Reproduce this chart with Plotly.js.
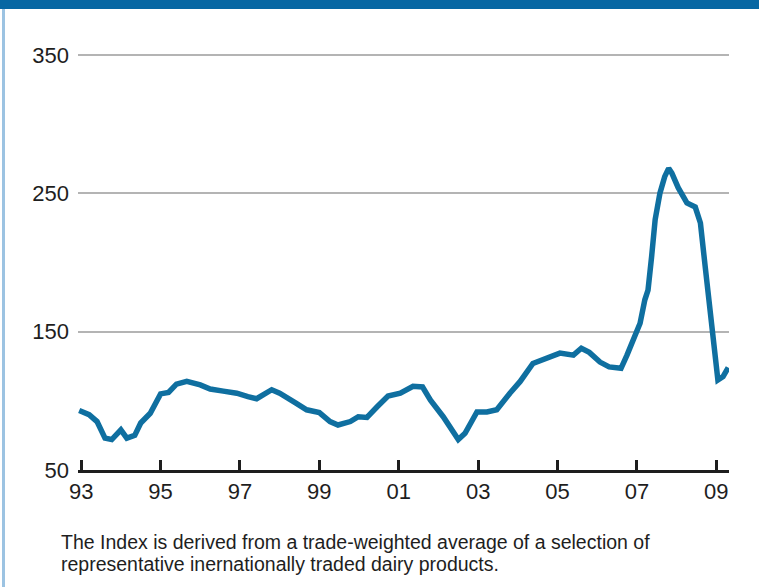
<!DOCTYPE html>
<html>
<head>
<meta charset="utf-8">
<script src="https://cdn.plot.ly/plotly-3.0.1.min.js"></script>
<style>
  html, body { margin: 0; padding: 0; background: #ffffff; }
  #wrap { position: relative; width: 759px; height: 587px; overflow: hidden; }
  #chart { position: absolute; left: 0; top: 0; width: 759px; height: 587px; }
  #band { position: absolute; left: 0; top: 0; width: 759px; height: 9px; background: #0767a3; z-index: 5; }
  #lborder { position: absolute; left: 2px; top: 9px; width: 3px; height: 578px; background: #9cc3e2; z-index: 5; }
</style>
</head>
<body>
<div id="wrap">
  <div id="chart"></div>
  <div id="band"></div>
  <div id="lborder"></div>
</div>
<script>
// Dairy price index
const years = [
  1992.95, 1993.2, 1993.4, 1993.6, 1993.77, 1994.0, 1994.15, 1994.35, 1994.5, 1994.74,
  1995.0, 1995.2, 1995.4, 1995.66, 1996.0, 1996.25, 1996.58, 1996.92, 1997.2, 1997.42,
  1997.8, 1998.0, 1998.4, 1998.68, 1999.0, 1999.27, 1999.47, 1999.78, 1999.98, 2000.2,
  2000.45, 2000.73, 2001.04, 2001.36, 2001.6, 2001.8, 2002.12, 2002.37, 2002.5, 2002.67,
  2002.97, 2003.22, 2003.47, 2003.8, 2004.06, 2004.38, 2004.64, 2005.06, 2005.4, 2005.6,
  2005.8, 2006.07, 2006.3, 2006.6, 2006.75, 2006.9, 2007.08, 2007.2, 2007.28, 2007.37,
  2007.46, 2007.58, 2007.7, 2007.8, 2007.88, 2008.04, 2008.26, 2008.47, 2008.6, 2008.72,
  2008.85, 2008.97, 2009.04, 2009.17, 2009.3
];
const indexValues = [
  93, 90, 85, 73, 72, 79, 73, 75, 84, 91,
  105, 106, 112, 114, 111.5, 108.5, 107, 105.5, 103, 101.5,
  108, 105.5, 98.5, 93.5, 91.5, 85, 82.5, 85, 88.5, 88,
  95.5, 103.5, 105.5, 110.5, 110, 100.5, 88.5, 76.5, 72, 76.5,
  92, 92, 93.5, 105.5, 114, 127, 129.5, 134.5, 133, 138,
  135, 128, 124.5, 123.5, 133, 144, 156, 173, 180, 204,
  231, 250, 262, 268, 264.5, 254, 243, 240, 228.5, 197,
  165.5, 132, 115, 117.5, 124
];
const xTickVals = [1993, 1995, 1997, 1999, 2001, 2003, 2005, 2007, 2009];
const xTickText = ['93', '95', '97', '99', '01', '03', '05', '07', '09'];
const yTickVals = [50, 150, 250, 350];
const noteLines = [
  'The Index is derived from a trade-weighted average of a selection of',
  'representative inernationally traded dairy products.'
];

const trace = {
  x: years,
  y: indexValues,
  type: 'scatter',
  mode: 'lines',
  line: { color: '#0f6fa0', width: 5.5, shape: 'linear' },
  hoverinfo: 'x+y'
};

const noteY = [-0.1678, -0.2191];

const layout = {
  width: 759,
  height: 587,
  margin: { l: 78, r: 30, t: 41, b: 117 },
  paper_bgcolor: '#ffffff',
  plot_bgcolor: '#ffffff',
  showlegend: false,
  font: { family: 'Liberation Sans, Arial, sans-serif', color: '#1e1e1e' },
  xaxis: {
    range: [1992.92, 2009.32],
    tickmode: 'array',
    tickvals: xTickVals,
    ticktext: xTickText,
    ticks: 'inside',
    ticklen: 10,
    tickwidth: 3,
    tickcolor: '#1e1e1e',
    showline: true,
    linecolor: '#1e1e1e',
    linewidth: 3,
    showgrid: false,
    zeroline: false,
    tickfont: { size: 22, color: '#1e1e1e' },
    ticklabelstandoff: 0,
    fixedrange: true
  },
  yaxis: {
    range: [50, 360],
    tickmode: 'array',
    tickvals: yTickVals,
    ticks: '',
    showline: false,
    showgrid: true,
    gridcolor: '#b4b4b4',
    gridwidth: 2,
    zeroline: false,
    tickfont: { size: 22, color: '#1e1e1e' },
    ticklabelstandoff: 8,
    fixedrange: true
  },
  annotations: noteLines.map((t, i) => ({
    text: t,
    xref: 'paper', yref: 'paper',
    x: -0.029, y: noteY[i],
    xanchor: 'left', yanchor: 'middle',
    align: 'left',
    showarrow: false,
    font: { size: 19.5, color: '#1e1e1e' }
  }))
};

Plotly.newPlot('chart', [trace], layout, { displayModeBar: false, staticPlot: true });
</script>
</body>
</html>
